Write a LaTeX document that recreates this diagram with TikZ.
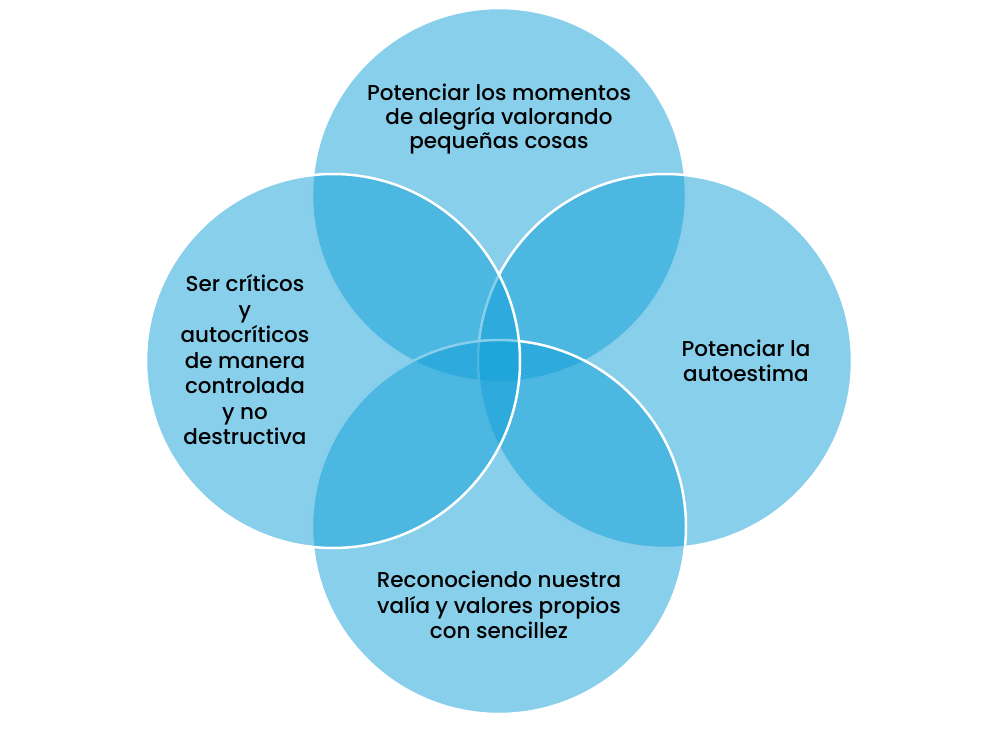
\documentclass[tikz,border=0pt]{standalone}
\usepackage{fontspec}
\setmainfont{Poppins}[UprightFont=* Medium]
\definecolor{venn}{RGB}{17,159,215}
\tikzset{
  vcirc/.style={circle, minimum size=374pt, inner sep=0pt, fill=venn, fill opacity=0.5, draw=white, line width=2.5pt},
  vtext/.style={align=center, font=\fontsize{21.5}{25.5}\selectfont, text=black, inner sep=0pt},
}
\begin{document}
\begin{tikzpicture}[x=1pt,y=-1pt]
\useasboundingbox (0,0) rectangle (997,732);
\node[vcirc] (top) at (499,195) {};
\node[vcirc] (right) at (665,361) {};
\node[vcirc] (bottom) at (499,527) {};
\node[vcirc] (left) at (333,361) {};
\node[vtext, font=\fontsize{21.5}{23.8}\selectfont] (ttop) at (499,119) {Potenciar los momentos\\de alegría valorando\\pequeñas cosas};
\node[vtext] (tleft) at (245,360) {Ser críticos\\y\\autocríticos\\de manera\\controlada\\y no\\destructiva};
\node[vtext] (tright) at (746,361) {Potenciar la\\autoestima};
\node[vtext] (tbottom) at (499,605) {Reconociendo nuestra\\valía y valores propios\\con sencillez};
\end{tikzpicture}
\end{document}
